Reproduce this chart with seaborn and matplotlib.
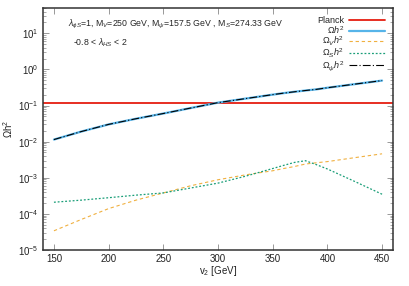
import numpy as np
import pandas as pd
import matplotlib
matplotlib.use("Agg")
import matplotlib.pyplot as plt
import matplotlib.ticker as mticker
import seaborn as sns

# data
v2 = [150, 175, 200, 225, 250, 275, 300, 325, 350, 360, 370, 380, 390, 400, 425, 450]
omega_tot = [0.0114, 0.019, 0.030, 0.043, 0.060, 0.085, 0.12, 0.155, 0.20, 0.22, 0.24, 0.26,
             0.28, 0.31, 0.39, 0.49]
omega_V = [3.4e-5, 7e-5, 1.4e-4, 2.4e-4, 3.8e-4, 6e-4, 8.8e-4, 1.2e-3, 1.56e-3, 1.8e-3,
           2.05e-3, 2.4e-3, 2.6e-3, 2.8e-3, 3.6e-3, 4.6e-3]
omega_S = [2.1e-4, 2.4e-4, 2.8e-4, 3.3e-4, 3.8e-4, 5.2e-4, 7.1e-4, 1.1e-3, 1.8e-3, 2.2e-3,
           2.66e-3, 2.96e-3, 2.3e-3, 1.75e-3, 7.9e-4, 3.5e-4]
omega_psi = omega_tot
planck = 0.12

df = pd.DataFrame({"v2": v2, "tot": omega_tot, "V": omega_V, "S": omega_S, "psi": omega_psi})

sns.set_style("ticks")
plt.rcParams['font.family'] = ['Liberation Sans', 'DejaVu Sans']
plt.rcParams['mathtext.fontset'] = 'custom'
plt.rcParams['mathtext.rm'] = 'Liberation Sans'
plt.rcParams['mathtext.it'] = 'Liberation Sans:italic'
plt.rcParams['font.size'] = 7

fig, ax = plt.subplots(figsize=(4.09, 2.86), dpi=100)
fig.subplots_adjust(left=43/409, right=393/409, top=1-8/286, bottom=1-250/286)

ax.axhline(planck, color="#e51e10", lw=1.3, label="Planck")
sns.lineplot(data=df, x="v2", y="tot", ax=ax, color="#56b4e9", lw=1.6, label=r"$\Omega h^2$")
sns.lineplot(data=df, x="v2", y="V", ax=ax, color="#f0b040", lw=0.8,
             label=r"$\Omega_V h^2$")
ax.lines[-1].set_linestyle((0, (3, 2.5)))
sns.lineplot(data=df, x="v2", y="S", ax=ax, color="#1a9e78", lw=0.9,
             label=r"$\Omega_S h^2$")
ax.lines[-1].set_linestyle((0, (1.5, 1.5)))
sns.lineplot(data=df, x="v2", y="psi", ax=ax, color="black", lw=0.8,
             label=r"$\Omega_\psi h^2$")
ax.lines[-1].set_linestyle((0, (7, 2, 1, 2)))

ax.set_yscale("log")
ax.set_xlim(140, 460)
ax.set_ylim(1e-5, 50)
ax.set_xticks([150, 200, 250, 300, 350, 400, 450])
ax.yaxis.set_major_locator(mticker.LogLocator(base=10, numticks=10))
ax.yaxis.set_minor_locator(mticker.LogLocator(base=10, subs=np.arange(2, 10), numticks=10))
ax.yaxis.set_minor_formatter(mticker.NullFormatter())
ax.tick_params(which="both", direction="in", top=True, right=True, labelsize=7,
               color="#888888", labelcolor="#222222")
ax.tick_params(which="major", length=4, width=0.6, pad=3)
ax.tick_params(which="minor", length=2, width=0.5)
for s in ax.spines.values():
    s.set_linewidth(1.1)
    s.set_color("#333333")
ax.xaxis.offsetText.set_visible(False)
ax.yaxis.offsetText.set_visible(False)

ax.set_xlabel(r"v$_2$ [GeV]", fontsize=7, labelpad=0, color="#222222")
ax.set_ylabel(r"$\Omega$h$^2$", fontsize=7, labelpad=2, color="#222222")

ax.text(0.07, 0.93, r"$\lambda_{\phi S}$=1, M$_V$=250 GeV, M$_\psi$=157.5 GeV , M$_S$=274.33 GeV",
        transform=ax.transAxes, fontsize=6.3, va="center")
ax.text(0.085, 0.855, r"-0.8 < $\lambda_{HS}$ < 2", transform=ax.transAxes, fontsize=6.3,
        va="center")

leg = ax.legend(loc="upper right", frameon=False, markerfirst=False, fontsize=6.5,
                handlelength=4.0, labelspacing=-0.12, borderaxespad=0.6, borderpad=0.3,
                handletextpad=0.5)

fig.savefig("out.png", dpi=100)
